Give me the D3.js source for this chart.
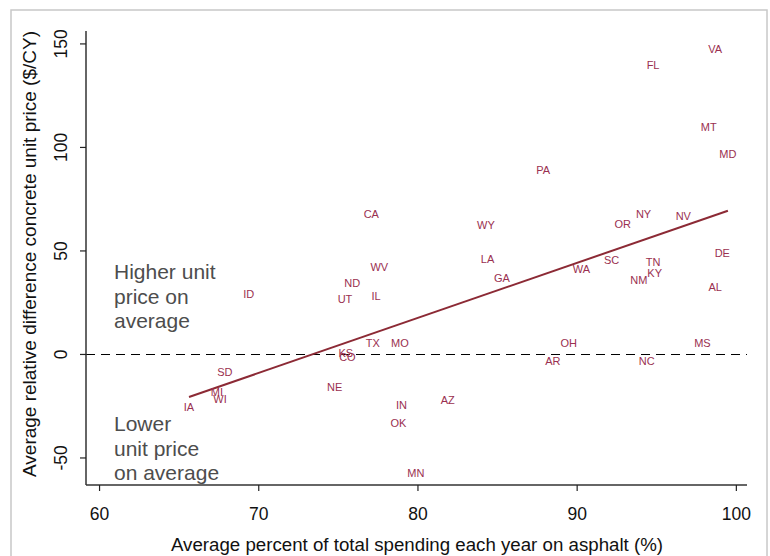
<!DOCTYPE html>
<html><head><meta charset="utf-8">
<script src="https://cdn.jsdelivr.net/npm/d3@7"></script>
<style>body{margin:0;background:#fff}svg{display:block}text{font-family:"Liberation Sans",Arial,sans-serif}</style>
</head><body>
<svg id="c" width="770" height="556"></svg>
<script>
const states = ["VA","FL","MT","MD","PA","CA","WY","LA","GA","WV","ND","UT","IL","TX","MO","ID","OR","NY","NV","DE","SC","WA","TN","KY","NM","AL","OH","MS","AR","NC","SD","MI","WI","IA","KS","CO","NE","IN","AZ","OK","MN"];
const asphaltPct = [98.7,94.8,98.3,99.5,87.9,77.1,84.3,84.4,85.3,77.6,75.9,75.45,77.4,77.2,78.9,69.4,92.9,94.2,96.7,99.15,92.2,90.3,94.8,94.9,93.9,98.7,89.5,97.9,88.5,94.4,67.9,67.4,67.6,65.65,75.5,75.6,74.8,79.0,81.9,78.8,79.9];
const priceDiff = [147.2,139.6,109.5,96.5,88.6,67.6,62.3,45.9,36.9,41.9,34.2,26.6,28.2,5.2,5.2,29.0,62.8,67.6,66.7,48.9,45.4,40.9,44.6,39.0,35.7,32.5,5.2,5.2,-3.2,-3.2,-8.5,-18.2,-21.7,-25.5,0.3,-1.5,-15.8,-24.8,-22.2,-33.5,-57.6];
const fitX = [65.65, 99.5];
const fitY = [-20.8, 69.2];
const xTicks = [60,70,80,90,100];
const yTicks = [-50,0,50,100,150];
const xTitle = "Average percent of total spending each year on asphalt (%)";
const yTitle = "Average relative difference concrete unit price ($/CY)";
const higherText = ["Higher unit","price on","average"];
const lowerText = ["Lower","unit price","on average"];

const svg = d3.select("#c");
svg.append("rect").attr("x",11).attr("y",10).attr("width",756).attr("height",580)
  .attr("fill","none").attr("stroke","#c8c8c8").attr("stroke-width",1.5);

const x = d3.scaleLinear().domain([59.18,100.7]).range([86,747]);
const y = d3.scaleLinear().domain([-63.3,156]).range([485,31]);

// zero dashed line
svg.append("line").attr("x1",86).attr("x2",747).attr("y1",Math.round(y(0))+0.5).attr("y2",Math.round(y(0))+0.5)
  .attr("stroke","#000").attr("stroke-width",1.2).attr("stroke-dasharray","9,6");

// axes
const fmt = d => String(d);
const xAxis = svg.append("g").attr("transform","translate(0,485)")
  .call(d3.axisBottom(x).tickValues(xTicks).tickFormat(fmt).tickSize(6).tickPadding(17).tickSizeOuter(0));
const yAxis = svg.append("g").attr("transform","translate(86,0)")
  .call(d3.axisLeft(y).tickValues(yTicks).tickFormat(fmt).tickSize(6).tickSizeOuter(0));
[xAxis,yAxis].forEach(g=>{
  g.select(".domain").attr("stroke","#333").attr("stroke-width",1.5);
  g.selectAll(".tick line").attr("stroke","#222").attr("stroke-width",1.2);
  g.selectAll("text").attr("fill","#111").style("font-size","17.5px").attr("font-family","'Liberation Sans',Arial,sans-serif");
});
xAxis.select(".domain").attr("d","M86,0H747");
yAxis.select(".domain").attr("d","M0,31V485");
yAxis.selectAll(".tick text").attr("x",null).attr("dy",null)
  .attr("text-anchor","middle").attr("transform","translate(-19,0) rotate(-90)").attr("dy","0");

// titles
svg.append("text").attr("x",417).attr("y",551).attr("text-anchor","middle")
  .style("font-size","18.7px").attr("fill","#111").text(xTitle);
svg.append("text").attr("transform","translate(36,254) rotate(-90)").attr("text-anchor","middle")
  .style("font-size","19px").attr("fill","#111").text(yTitle);

// fit line
svg.append("path").datum(fitX.map((d,i)=>[d,fitY[i]]))
  .attr("d",d3.line().x(d=>x(d[0])).y(d=>y(d[1])))
  .attr("stroke","#8c2a35").attr("stroke-width",2).attr("fill","none");

// state labels
svg.append("g").selectAll("text").data(states).join("text")
  .attr("x",(d,i)=>x(asphaltPct[i])).attr("y",(d,i)=>y(priceDiff[i]))
  .attr("dy","0.36em").attr("text-anchor","middle")
  .style("font-size","11px").attr("fill","#9a3050").text(d=>d);

// annotations
function block(lines,y0){
  lines.forEach((t,i)=>svg.append("text").attr("x",114).attr("y",y0+i*24.5)
    .style("font-size","21px").attr("fill","#4d4d4d").text(t));
}
block(higherText,279);
block(lowerText,431);
</script>
</body></html>
